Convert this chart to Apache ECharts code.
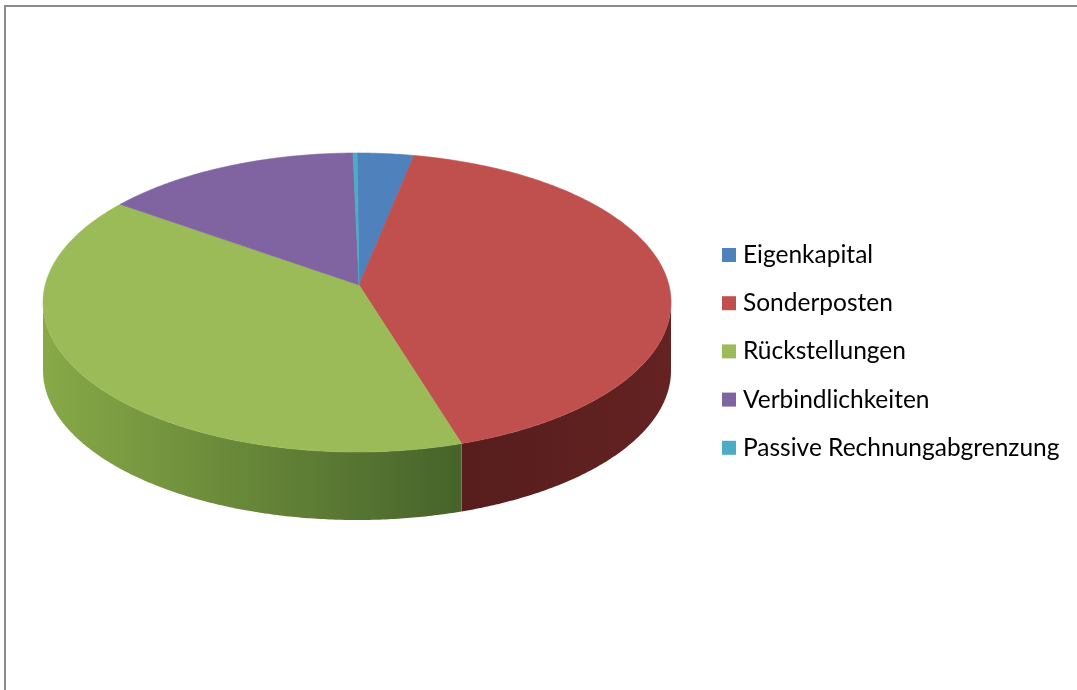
<!DOCTYPE html>
<html>
<head>
<meta charset="utf-8">
<script src="https://cdn.jsdelivr.net/npm/echarts@6/dist/echarts.min.js"></script>
<style>
html,body{margin:0;padding:0;background:#fff;}
#chart{width:1077px;height:690px;}
</style>
</head>
<body>
<div id="chart"></div>
<script>
const categories = ['Eigenkapital', 'Sonderposten', 'Rückstellungen', 'Verbindlichkeiten', 'Passive Rechnungabgrenzung'];
const values = [2.9, 41.7, 41.8, 13.4, 0.2];
const topColors = ['#4f81bd', '#c0504d', '#9bbb59', '#8064a2', '#4bacc6'];
const sideColors = [['#3a6296', '#2a4a74'], ['#642222', '#571d1d'], ['#87a947', '#46632a'], ['#5e4a7a', '#4a3a62'], ['#3a8aa0', '#2d6c7e']];

const chart = echarts.init(document.getElementById('chart'), null, {renderer: 'canvas'});
const total = values.reduce((a, b) => a + b, 0);

function renderItem(params, api) {
  const i = params.dataIndex;
  const W = api.getWidth();
  const cx = W * 0.3315, cy = 302.5, rx = 314, ry = 149.5, depth = 68;
  const ax = cx + 2, ay = 285;
  let before = 0;
  for (let k = 0; k < i; k++) before += values[k];
  const t0 = before / total * Math.PI * 2;
  const t1 = (before + api.value(0)) / total * Math.PI * 2;
  const pt = (t, dy) => [cx + rx * Math.sin(t), cy - ry * Math.cos(t) + (dy || 0)];
  const arc = (a, b, dy) => {
    const n = Math.max(2, Math.ceil((b - a) / 0.01));
    const out = [];
    for (let s = 0; s <= n; s++) out.push(pt(a + (b - a) * s / n, dy));
    return out;
  };
  const children = [];
  const s0 = Math.max(t0, Math.PI / 2), s1 = Math.min(t1, Math.PI * 1.5);
  if (s1 > s0) {
    const upper = arc(s0, s1, 0);
    const lower = arc(s0, s1, depth).reverse();
    const xs = upper.map(p => p[0]);
    const xmin = Math.min.apply(null, xs), xmax = Math.max.apply(null, xs);
    const sc = sideColors[i];
    const leftC = sc[0], rightC = sc[1];
    children.push({
      type: 'polygon',
      shape: {points: upper.concat(lower)},
      style: {
        fill: new echarts.graphic.LinearGradient(xmin, 0, xmax, 0, [
          {offset: 0, color: i === 1 ? rightC : leftC},
          {offset: 1, color: i === 1 ? leftC : rightC}
        ], true),
        stroke: null
      }
    });
  }
  children.push({
    type: 'polygon',
    shape: {points: [[ax, ay]].concat(arc(t0, t1, 0))},
    style: {fill: topColors[i], stroke: topColors[i], lineWidth: 0.6}
  });
  return {type: 'group', children: children};
}

chart.setOption({
  animation: false,
  color: topColors,
  graphic: [{
    type: 'rect',
    shape: {x: 5, y: 6, width: 1200, height: 800},
    style: {fill: null, stroke: '#8c8c8c', lineWidth: 2},
    silent: true
  }],
  legend: {
    orient: 'vertical',
    left: 722,
    top: 242.5,
    padding: 0,
    itemWidth: 14,
    itemHeight: 14,
    itemGap: 23.2,
    icon: 'rect',
    data: categories,
    textStyle: {fontFamily: 'Lato', fontSize: 24.5, lineHeight: 24, color: '#000', padding: [0, 0, 0, 2]}
  },
  series: [
    {
      type: 'custom',
      coordinateSystem: 'none',
      renderItem: renderItem,
      silent: true,
      data: values.map((v, i) => ({name: categories[i], value: [v]}))
    },
    {
      type: 'pie',
      center: [-1000, -1000],
      radius: 1,
      silent: true,
      label: {show: false},
      labelLine: {show: false},
      data: values.map((v, i) => ({name: categories[i], value: v}))
    }
  ]
});
</script>
</body>
</html>
